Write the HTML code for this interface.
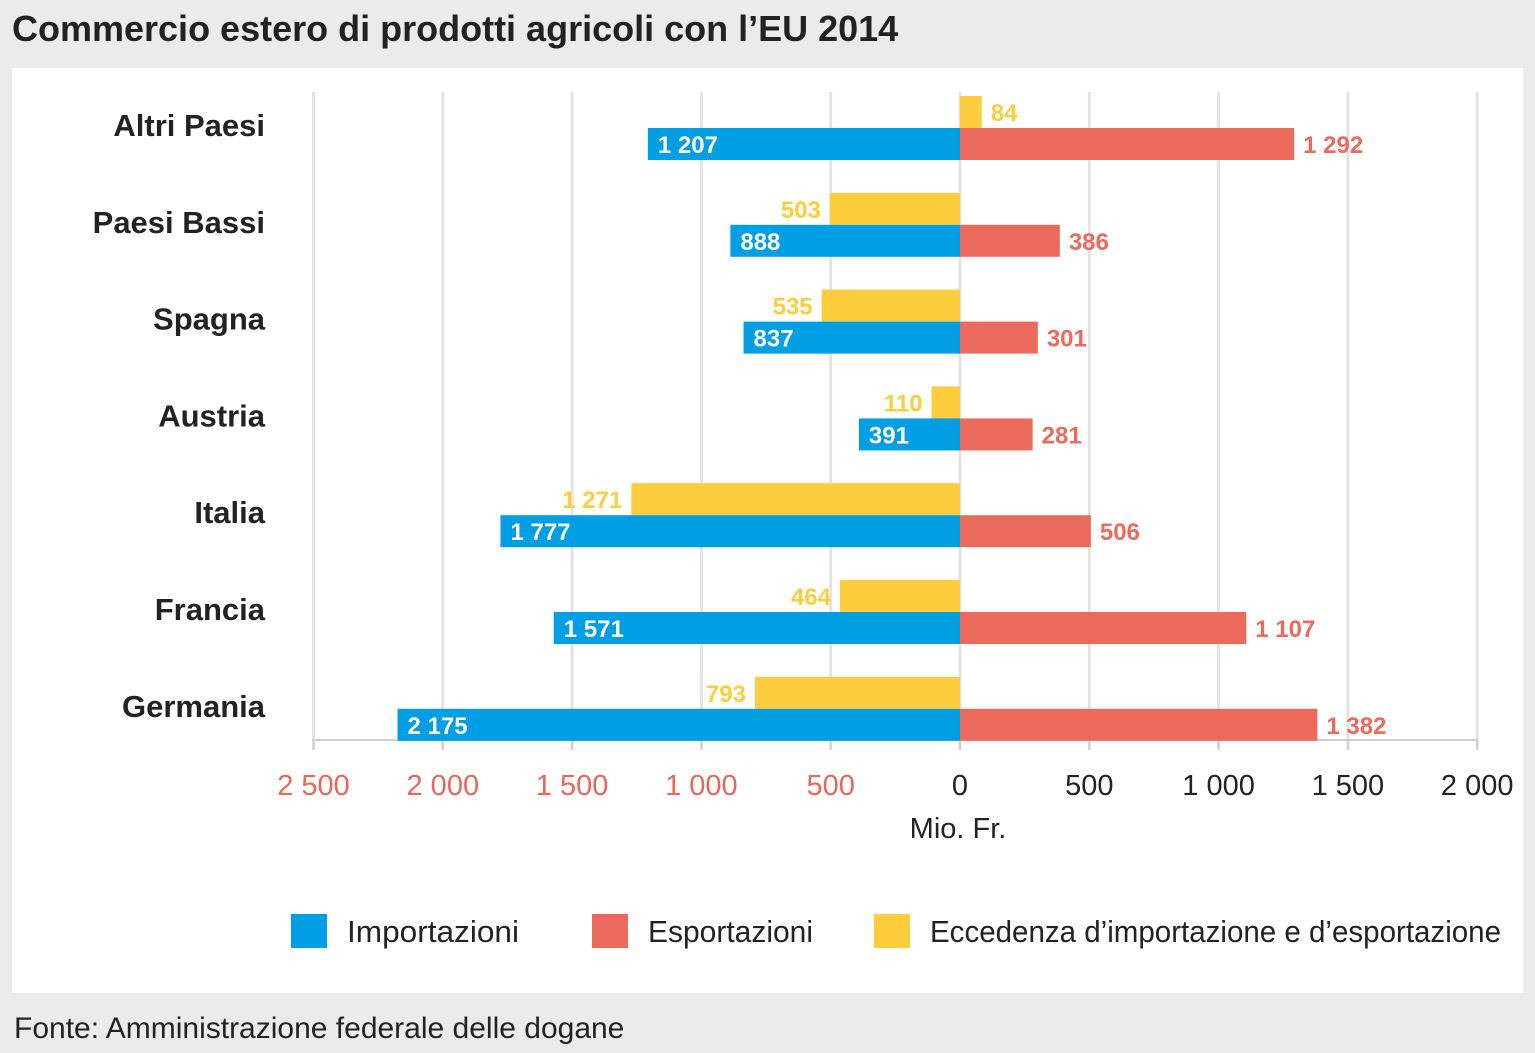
<!DOCTYPE html>
<html><head><meta charset="utf-8"><style>
body{margin:0;width:1535px;height:1053px;background:#ebebeb;overflow:hidden;font-family:"Liberation Sans Narrow","Liberation Sans",sans-serif;}
#title{position:absolute;left:12px;top:8px;font-size:36px;font-weight:bold;color:#222;}
#panel{position:absolute;left:12px;top:68px;width:1511px;height:925px;background:#fff;}
#src{position:absolute;left:14px;top:1012px;font-size:30px;color:#222;}
svg{position:absolute;left:0;top:0}
</style></head><body>
<div id="title">Commercio estero di prodotti agricoli con l’EU 2014</div>
<div id="panel"></div>
<div id="src">Fonte: Amministrazione federale delle dogane</div>
<svg id="chart" width="1535" height="1053"></svg>
<script>
const categories=["Altri Paesi","Paesi Bassi","Spagna","Austria","Italia","Francia","Germania"];
const imports=[1207,888,837,391,1777,1571,2175];
const exports=[1292,386,301,281,506,1107,1382];
const surplus=[84,-503,-535,-110,-1271,-464,-793];
const ticks=[-2500,-2000,-1500,-1000,-500,0,500,1000,1500,2000];
const tickLabels=["2 500","2 000","1 500","1 000","500","0","500","1 000","1 500","2 000"];
const NS="http://www.w3.org/2000/svg";
const svg=document.getElementById('chart');
const x=v=>960+v*0.2586;
const bandTop=i=>96+i*96.8;
const fmt=v=>{const s=String(Math.abs(v));return s.length>3?s.slice(0,-3)+" "+s.slice(-3):s;};
function mk(t,a,txt){const e=document.createElementNS(NS,t);for(const k in a)e.setAttribute(k,a[k]);if(txt!==undefined)e.textContent=txt;svg.appendChild(e);return e;}
const F='"Liberation Sans Narrow","Liberation Sans",sans-serif';
ticks.forEach((t,i)=>{
 const g=mk('line',{x1:x(t),x2:x(t),y1:92,y2:750,stroke:'#e3e3e3','stroke-width':3});
 
 
 const tk=mk('line',{x1:x(t),x2:x(t),y1:740,y2:750,stroke:'#d0d0d0','stroke-width':2});
 
 
 const l=mk('text',{x:x(t),y:795,'text-anchor':'middle','font-size':29,'font-family':F,fill:t<0?'#e8675a':'#222'},tickLabels[i]);
 
 
});
const ax=mk('line',{x1:312,x2:1478,y1:740,y2:740,stroke:'#d0d0d0','stroke-width':2});


const at=mk('text',{x:958,y:838,'text-anchor':'middle','font-size':29,'font-family':F,fill:'#222'},'Mio. Fr.');


categories.forEach((c,i)=>{
 const top=bandTop(i),h=32;
 const cl=mk('text',{x:265,y:top+40,'text-anchor':'end','font-size':31,'font-weight':'bold','font-family':F,fill:'#222'},c);
 
 
 const s=surplus[i];
 const ys=mk('rect',{x:Math.min(x(0),x(s)),y:top,width:Math.abs(x(s)-x(0)),height:h,fill:'#fecd3d'});
 
 
 const sl=mk('text',{x:s<0?x(s)-9:x(s)+9,y:top+25,'text-anchor':s<0?'end':'start','font-size':24,'font-weight':'bold','font-family':F,fill:'#fecd3d'},fmt(s));
 
 
 const b=mk('rect',{x:x(-imports[i]),y:top+h,width:x(0)-x(-imports[i]),height:h,fill:'#009fe3'});
 
 
 const bl=mk('text',{x:x(-imports[i])+10,y:top+h+25,'font-size':24,'font-weight':'bold','font-family':F,fill:'#fff'},fmt(imports[i]));
 
 
 const r=mk('rect',{x:x(0),y:top+h,width:x(exports[i])-x(0),height:h,fill:'#ec6a5c'});
 
 
 const rl=mk('text',{x:x(exports[i])+9,y:top+h+25,'font-size':24,'font-weight':'bold','font-family':F,fill:'#ec6a5c'},fmt(exports[i]));
 
 
});
[[291,'#009fe3','Importazioni',172],[592,'#ec6a5c','Esportazioni',165],[874,'#fecd3d','Eccedenza d’importazione e d’esportazione',571]].forEach(l=>{
 const sq=mk('rect',{x:l[0],y:914,width:36,height:34,fill:l[1]});
 
 
 const t=mk('text',{x:l[0]+56,y:942,'font-size':31,'font-family':F,fill:'#222',textLength:l[3],lengthAdjust:'spacingAndGlyphs'},l[2]);
 
 
});
</script>
</body></html>
